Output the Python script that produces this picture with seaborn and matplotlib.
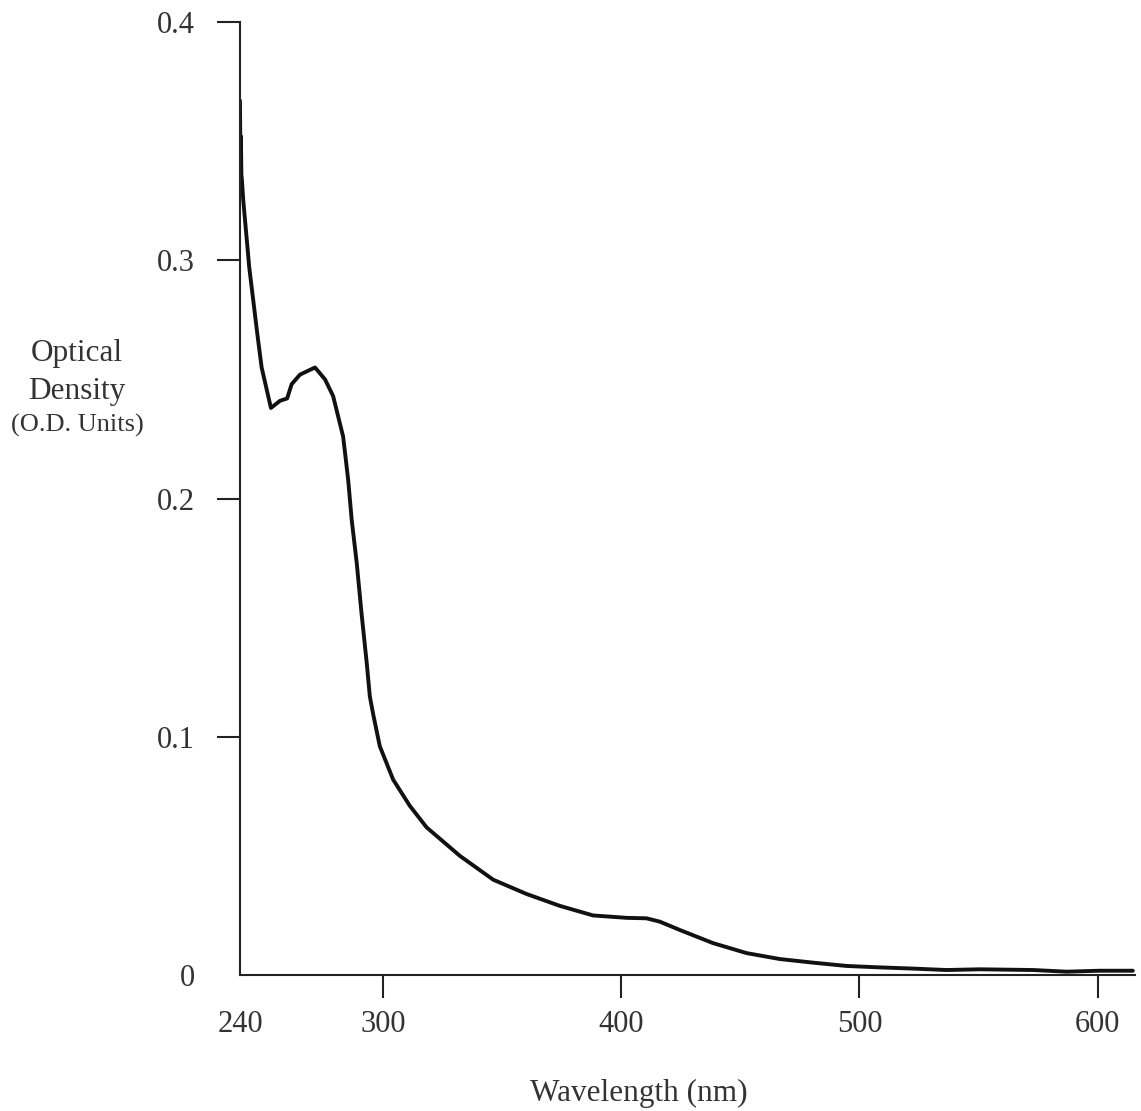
import matplotlib
matplotlib.use("Agg")
import matplotlib.pyplot as plt
import seaborn as sns
import pandas as pd

# wavelength (nm) and optical density
wavelength = [240.0, 240.2, 240.4, 240.6, 240.8, 241.4, 243.9, 247.3, 249.1,
              253.0, 256.8, 259.8, 261.7, 265.2, 271.5, 275.7, 279.1, 283.3,
              285.4, 286.9, 289.0, 291.0, 293.2, 294.5, 296.0, 298.7, 304.3,
              311.3, 318.3, 332.3, 346.3, 360.3, 374.3, 388.2, 402.2, 410.6,
              416.2, 424.6, 438.5, 452.6, 466.6, 480.4, 494.6, 508.5, 522.4,
              536.5, 550.5, 572.8, 586.9, 600.8, 614.7]
optical_density = [0.367, 0.342, 0.352, 0.336, 0.334, 0.325, 0.297, 0.269, 0.255,
                   0.238, 0.241, 0.242, 0.248, 0.252, 0.255, 0.250, 0.243, 0.226,
                   0.208, 0.191, 0.173, 0.152, 0.131, 0.117, 0.109, 0.096, 0.082,
                   0.071, 0.062, 0.050, 0.040, 0.034, 0.029, 0.025, 0.024, 0.0238,
                   0.0224, 0.0189, 0.0134, 0.0092, 0.0067, 0.0052, 0.0038, 0.0032, 0.0027,
                   0.0021, 0.0024, 0.0021, 0.0014, 0.0018, 0.0018]

x_ticks = [240, 300, 400, 500, 600]
y_ticks = [0, 0.1, 0.2, 0.3, 0.4]
y_tick_labels = ["0", "0.1", "0.2", "0.3", "0.4"]

df = pd.DataFrame({"wavelength": wavelength, "od": optical_density})

sns.set_style("white")
plt.rcParams["font.family"] = ["Liberation Serif", "DejaVu Serif"]

fig = plt.figure(figsize=(11.41, 11.11), dpi=100)
ax = fig.add_axes([0.2103, 0.1224, 0.7844, 0.8578])

sns.lineplot(data=df, x="wavelength", y="od", ax=ax, color="#111111",
             linewidth=2.8, sort=False, estimator=None)

ax.set_xlim(240, 615.6)
ax.set_ylim(0, 0.4)
ax.set_xticks(x_ticks)
ax.set_xticklabels([str(t) for t in x_ticks])
ax.set_yticks(y_ticks)
ax.set_yticklabels(y_tick_labels)

sns.despine(ax=ax)
for side in ["left", "bottom"]:
    ax.spines[side].set_linewidth(1.5)
    ax.spines[side].set_color("#222222")

ax.tick_params(axis="both", direction="out", length=16.5, width=1.5,
               color="#222222", labelsize=22, labelcolor="#333333",
               bottom=True, left=True)
ax.tick_params(axis="y", pad=16)
ax.tick_params(axis="x", pad=9)
# no tick marks at the corner
ax.xaxis.get_major_ticks()[0].tick1line.set_visible(False)
ax.yaxis.get_major_ticks()[0].tick1line.set_visible(False)

ax.set_xlabel("")
ax.set_ylabel("")

fig.text(639 / 1141, 1 - 1101 / 1111, "Wavelength (nm)", ha="center",
         va="baseline", fontsize=22.5, color="#333333")
fig.text(77 / 1141, 1 - 361 / 1111, "Optical", ha="center", va="baseline",
         fontsize=22.5, color="#333333")
fig.text(77 / 1141, 1 - 399 / 1111, "Density", ha="center", va="baseline",
         fontsize=22.5, color="#333333")
fig.text(77 / 1141, 1 - 432 / 1111, "(O.D. Units)", ha="center", va="baseline",
         fontsize=19, color="#333333")

fig.savefig("out.png", dpi=100, facecolor="white")
